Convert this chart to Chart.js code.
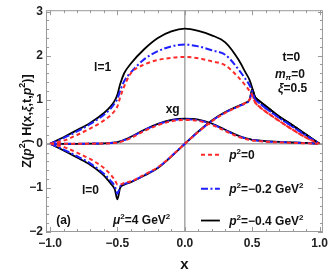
<!DOCTYPE html>
<html>
<head>
<meta charset="utf-8">
<script src="https://cdn.jsdelivr.net/npm/chart.js@4.4.1/dist/chart.umd.min.js"></script>
<style>
  html, body { margin: 0; padding: 0; background: #fff; }
  #wrap { width: 332px; height: 272px; }
</style>
</head>
<body>
<div id="wrap"><canvas id="gpd" width="332" height="272"></canvas></div>
<script>
// x grid shared by every curve
const X = [-1, -0.9, -0.8, -0.7, -0.6, -0.55, -0.52, -0.5, -0.48, -0.45, -0.4, -0.3, -0.2, -0.1, 0,
           0.1, 0.2, 0.3, 0.4, 0.45, 0.48, 0.5, 0.52, 0.55, 0.6, 0.7, 0.8, 0.9, 1];

// I=1 curves
const l1_p0 = [0, 0.07, 0.2, 0.35, 0.53, 0.65, 0.75, 0.85, 1.05, 1.3, 1.6, 1.8, 1.9, 1.95, 1.97,
               1.94, 1.87, 1.78, 1.5, 1.32, 1.2, 1.1, 0.95, 0.85, 0.73, 0.52, 0.32, 0.14, 0];
const l1_p2 = [0, 0.13, 0.28, 0.45, 0.66, 0.8, 0.92, 1.02, 1.2, 1.42, 1.62, 1.92, 2.1, 2.21, 2.25,
               2.21, 2.12, 2.02, 1.68, 1.47, 1.33, 1.2, 1.02, 0.93, 0.81, 0.59, 0.39, 0.19, 0];
const l1_p4 = [0, 0.15, 0.31, 0.48, 0.70, 0.85, 0.98, 1.12, 1.35, 1.6, 1.82, 2.15, 2.4, 2.55, 2.61,
               2.56, 2.46, 2.3, 1.9, 1.62, 1.45, 1.27, 1.07, 0.98, 0.86, 0.62, 0.42, 0.21, 0];

// I=0 curves
const l0_p0 = [0, -0.07, -0.2, -0.35, -0.55, -0.7, -0.82, -0.92, -0.92, -0.89, -0.85, -0.7, -0.53, -0.28, 0,
               0.27, 0.51, 0.7, 0.85, 0.93, 1.0, 1.1, 0.95, 0.85, 0.73, 0.52, 0.32, 0.14, 0];
const l0_p2 = [0, -0.13, -0.28, -0.45, -0.68, -0.84, -0.96, -1.13, -0.97, -0.91, -0.86, -0.71, -0.54, -0.28, 0,
               0.27, 0.52, 0.71, 0.85, 0.92, 0.99, 1.18, 1.02, 0.93, 0.81, 0.59, 0.39, 0.19, 0];
const l0_p4 = [0, -0.15, -0.31, -0.48, -0.72, -0.9, -1.03, -1.26, -1.0, -0.93, -0.87, -0.72, -0.55, -0.29, 0,
               0.28, 0.53, 0.72, 0.86, 0.93, 1.0, 1.24, 1.07, 0.98, 0.86, 0.62, 0.42, 0.21, 0];

// gluon xg curves
const xg_p0 = [0, 0, 0, 0.003, 0.008, 0.014, 0.02, 0.028, 0.04, 0.07, 0.13, 0.29, 0.42, 0.51, 0.54,
               0.52, 0.43, 0.29, 0.155, 0.11, 0.09, 0.075, 0.07, 0.06, 0.045, 0.032, 0.02, 0.012, 0];
const xg_p2 = [0, 0, 0, 0.005, 0.01, 0.018, 0.027, 0.036, 0.05, 0.082, 0.15, 0.31, 0.44, 0.53, 0.555,
               0.535, 0.45, 0.31, 0.17, 0.125, 0.1, 0.085, 0.08, 0.07, 0.055, 0.04, 0.028, 0.018, 0];
const xg_p4 = [0, 0, 0, 0.005, 0.012, 0.02, 0.03, 0.04, 0.055, 0.09, 0.16, 0.32, 0.45, 0.54, 0.57,
               0.55, 0.46, 0.32, 0.18, 0.13, 0.11, 0.09, 0.085, 0.075, 0.06, 0.045, 0.03, 0.02, 0];

const xTicks = [-1, -0.5, 0, 0.5, 1];
const yTicks = [-2, -1, 0, 1, 2, 3];
const seriesLabels = ['p²=0', 'p²=−0.2 GeV²', 'p²=−0.4 GeV²'];

const FONT = '"Liberation Sans", Arial, sans-serif';
const looks = [
  { color: '#ff2a2a', dash: [4, 3], width: 2 },
  { color: '#1f1fff', dash: [7, 2.5, 2, 2.5], width: 2 },
  { color: '#000000', dash: [], width: 1.8 }
];

function pts(arr) { return X.map((x, i) => ({ x: x, y: arr[i] })); }

const datasets = [];
[[l1_p0, l1_p2, l1_p4], [l0_p0, l0_p2, l0_p4], [xg_p0, xg_p2, xg_p4]].forEach(group => {
  group.forEach((arr, k) => {
    datasets.push({
      label: seriesLabels[k],
      data: pts(arr),
      showLine: true,
      borderColor: looks[k].color,
      borderDash: looks[k].dash,
      borderWidth: looks[k].width,
      pointRadius: 0,
      fill: false,
      cubicInterpolationMode: 'monotone'
    });
  });
});

// bold text with italic / super / subscript pieces
function rich(ctx, segs, x, y, align, size) {
  const small = Math.round(size * 0.68);
  const fonts = segs.map(s => (s.i ? 'italic ' : '') + 'bold ' + ((s.sup || s.sub) ? small : size) + 'px ' + FONT);
  let w = 0;
  const ws = segs.map((s, k) => { ctx.font = fonts[k]; const m = ctx.measureText(s.t).width; w += m; return m; });
  let cx = align === 'center' ? x - w / 2 : (align === 'right' ? x - w : x);
  ctx.textBaseline = 'alphabetic';
  ctx.textAlign = 'left';
  segs.forEach((s, k) => {
    ctx.font = fonts[k];
    const dy = s.sup ? -size * 0.42 : (s.sub ? size * 0.22 : 0);
    ctx.fillText(s.t, cx, y + dy);
    cx += ws[k];
  });
}

const notes = [
  { at: [-0.61, 1.66], segs: [{ t: 'l=1' }] },
  { at: [-0.09, 0.70], segs: [{ t: 'xg' }] },
  { at: [0.79, 1.88], segs: [{ t: 't=0' }] },
  { at: [0.78, 1.50], segs: [{ t: 'm', i: 1 }, { t: 'π', i: 1, sub: 1 }, { t: '=0' }] },
  { at: [0.80, 1.17], segs: [{ t: 'ξ', i: 1 }, { t: '=0.5' }] },
  { at: [-0.70, -1.14], segs: [{ t: 'l=0' }] },
  { at: [-0.90, -1.81], segs: [{ t: '(a)' }] },
  { at: [-0.32, -1.81], segs: [{ t: 'μ', i: 1 }, { t: '2', sup: 1 }, { t: '=4 GeV' }, { t: '2', sup: 1 }] }
];

const legendRows = [
  { y: -0.25, segs: [{ t: 'p', i: 1 }, { t: '2', sup: 1 }, { t: '=0' }] },
  { y: -1.02, segs: [{ t: 'p', i: 1 }, { t: '2', sup: 1 }, { t: '=−0.2 GeV' }, { t: '2', sup: 1 }] },
  { y: -1.74, segs: [{ t: 'p', i: 1 }, { t: '2', sup: 1 }, { t: '=−0.4 GeV' }, { t: '2', sup: 1 }] }
];

const framePlugin = {
  id: 'frame',
  beforeDatasetsDraw(chart) {
    const { ctx, chartArea: a, scales: { x, y } } = chart;
    ctx.save();
    ctx.strokeStyle = '#a6a6a6';
    ctx.lineWidth = 1.5;
    ctx.beginPath();
    const x0 = x.getPixelForValue(0), y0 = y.getPixelForValue(0);
    ctx.moveTo(x0, a.top); ctx.lineTo(x0, a.bottom);
    ctx.moveTo(a.left, y0); ctx.lineTo(a.right, y0);
    ctx.stroke();
    ctx.restore();
  },
  afterDatasetsDraw(chart) {
    const { ctx, chartArea: a, scales: { x, y } } = chart;
    ctx.save();
    ctx.strokeStyle = '#9a9a9a';
    ctx.lineWidth = 1;
    ctx.strokeRect(a.left + 0.5, a.top + 0.5, a.right - a.left - 1, a.bottom - a.top - 1);
    ctx.beginPath();
    for (let i = -10; i <= 10; i++) {
      const v = i / 10, px = Math.round(x.getPixelForValue(v)) + 0.5;
      const len = (i % 5 === 0) ? 5 : 3;
      ctx.moveTo(px, a.bottom); ctx.lineTo(px, a.bottom - len);
      ctx.moveTo(px, a.top); ctx.lineTo(px, a.top + len);
    }
    for (let i = -10; i <= 15; i++) {
      const v = i / 5, py = Math.round(y.getPixelForValue(v)) + 0.5;
      const len = (i % 5 === 0) ? 5 : 3;
      ctx.moveTo(a.left, py); ctx.lineTo(a.left + len, py);
      ctx.moveTo(a.right, py); ctx.lineTo(a.right - len, py);
    }
    ctx.stroke();

    ctx.fillStyle = '#111';
    notes.forEach(n => {
      rich(ctx, n.segs, x.getPixelForValue(n.at[0]), y.getPixelForValue(n.at[1]), 'center', 12);
    });

    // legend
    const lx0 = x.getPixelForValue(0.12), lx1 = x.getPixelForValue(0.26), tx = x.getPixelForValue(0.33);
    legendRows.forEach((r, k) => {
      const py = y.getPixelForValue(r.y);
      ctx.strokeStyle = looks[k].color;
      ctx.lineWidth = looks[k].width;
      ctx.setLineDash(looks[k].dash);
      ctx.beginPath(); ctx.moveTo(lx0, py); ctx.lineTo(lx1, py); ctx.stroke();
      ctx.setLineDash([]);
      ctx.fillStyle = '#111';
      rich(ctx, r.segs, tx, py + 4.5, 'left', 12);
    });

    // y axis title, rotated
    ctx.translate(26, (a.top + a.bottom) / 2);
    ctx.rotate(-Math.PI / 2);
    rich(ctx, [{ t: 'Z(' }, { t: 'p', i: 1 }, { t: '2', sup: 1 }, { t: ') H(x,' }, { t: 'ξ', i: 1 },
               { t: ',t,' }, { t: 'p', i: 1 }, { t: '2', sup: 1 }, { t: ')]' }], 0, 4.5, 'center', 12.5);
    ctx.restore();
  }
};

function fmtX(v) { return (v < 0 ? '\u2212' : '') + Math.abs(v).toFixed(1); }
function fmtY(v) { return (v < 0 ? '\u2212' : '') + Math.abs(v); }

new Chart(document.getElementById('gpd'), {
  type: 'scatter',
  data: { datasets: datasets },
  options: {
    responsive: false,
    animation: false,
    devicePixelRatio: 1,
    layout: { padding: { left: 0, right: 6, top: 5, bottom: 0 } },
    plugins: { legend: { display: false }, tooltip: { enabled: false } },
    scales: {
      x: {
        type: 'linear', min: -1.03, max: 1.025,
        afterBuildTicks: s => { s.ticks = xTicks.map(v => ({ value: v })); },
        afterFit: s => { s.height = 40; },
        grid: { display: false, drawTicks: false },
        border: { display: false },
        ticks: { callback: v => fmtX(v), color: '#222', padding: 4, maxRotation: 0,
                 font: { family: FONT, size: 12, weight: 'bold' } },
        title: { display: true, text: 'x', color: '#111', padding: { top: 0, bottom: 0 },
                 font: { family: FONT, size: 15, weight: 'bold', lineHeight: 1 } }
      },
      y: {
        type: 'linear', min: -2, max: 3.03,
        afterBuildTicks: s => { s.ticks = yTicks.map(v => ({ value: v })); },
        afterFit: s => { s.width = 46; },
        grid: { display: false, drawTicks: false },
        border: { display: false },
        ticks: { callback: v => fmtY(v), color: '#222', padding: 3,
                 font: { family: FONT, size: 12, weight: 'bold' } }
      }
    }
  },
  plugins: [framePlugin]
});
</script>
</body>
</html>
